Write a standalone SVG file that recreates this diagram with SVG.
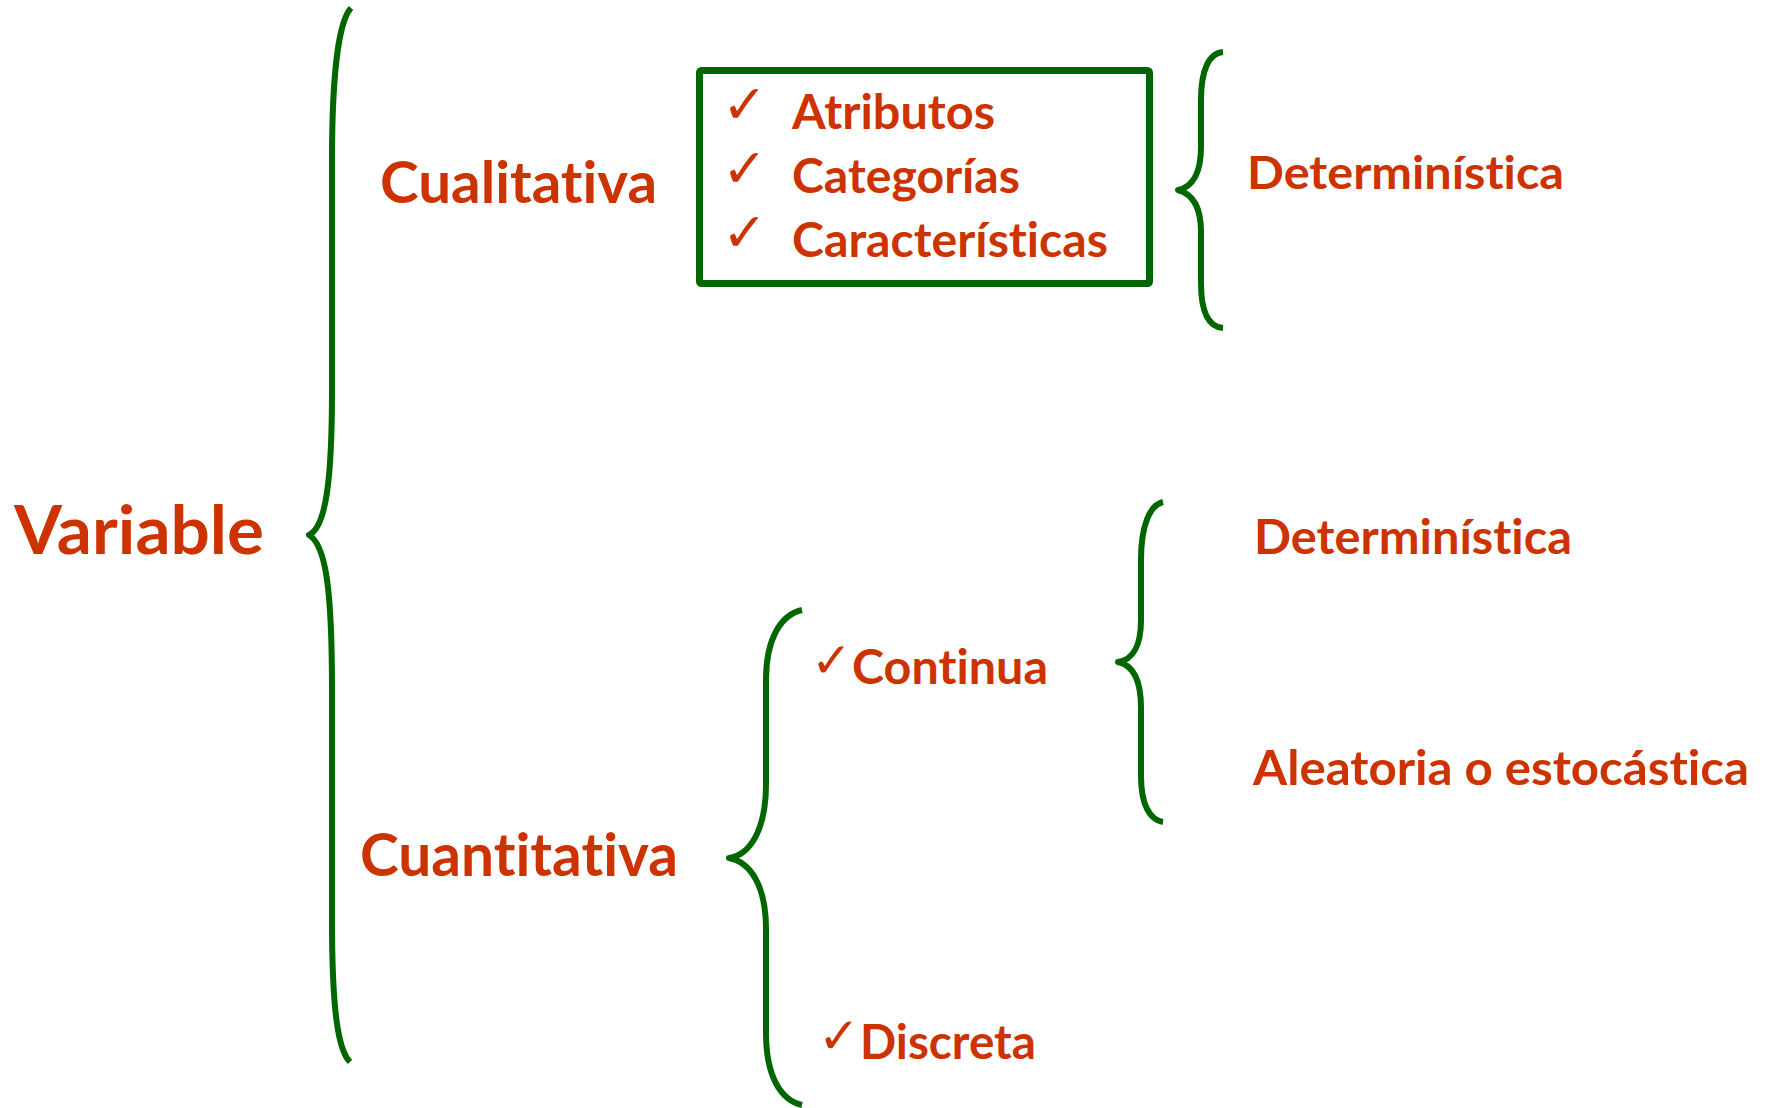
<svg xmlns="http://www.w3.org/2000/svg" width="1771" height="1108" viewBox="0 0 1771 1108">
<style>
.t{font-family:Lato,"Open Sans","Liberation Sans",sans-serif;font-weight:700;fill:#CC3300;font-variant-ligatures:none;font-feature-settings:"liga" 0,"clig" 0}
.ck{font-family:"DejaVu Sans",sans-serif;font-weight:400;fill:#CC3300}
.br{fill:none;stroke:#006600;stroke-width:6;stroke-linecap:butt;stroke-linejoin:round}
</style>
<rect width="1771" height="1108" fill="#ffffff"/>
<g id="connectors">
<path id="brace-variable" class="br" d="M351,8 C338,22 332,80 332,160 L332,390 C332,480 326,527 309,535 C326,545 332,590 332,690 L332,920 C332,1010 338,1050 350,1062"/>
<path id="brace-cualitativa" class="br" d="M1223,52 C1209,53 1201,70 1201,100 L1201,147 C1201,172 1193,187 1178,190 C1193,194 1201,208 1201,232 L1201,283 C1201,312 1209,327 1223,328"/>
<path id="brace-cuantitativa" class="br" d="M802,610 C780,615 766,640 766,680 L766,784 C766,830 750,855 729,858 C750,862 766,885 766,929 L766,1033 C766,1075 780,1100 802,1105"/>
<path id="brace-continua" class="br" d="M1163,502 C1150,505 1141,525 1141,560 L1141,620 C1141,645 1133,660 1118,662 C1133,665 1141,680 1141,708 L1141,776 C1141,805 1150,820 1163,822"/>
</g>
<g id="node-variable"><text class="t" x="14" y="554" font-size="67" textLength="250" lengthAdjust="spacingAndGlyphs">Variable</text></g>
<g id="node-cualitativa"><text class="t" x="380" y="203" font-size="57" textLength="277" lengthAdjust="spacingAndGlyphs">Cualitativa</text></g>
<g id="node-cuantitativa"><text class="t" x="360" y="876" font-size="60" textLength="318" lengthAdjust="spacingAndGlyphs">Cuantitativa</text></g>
<g id="node-box">
<rect x="699.5" y="70.5" width="450" height="213" rx="2" fill="none" stroke="#006600" stroke-width="7"/>
<text class="t" y="129" font-size="47"><tspan class="ck" x="722" y="123" font-size="54">✓</tspan><tspan x="792" y="129" textLength="203" lengthAdjust="spacingAndGlyphs">Atributos</tspan></text>
<text class="t" y="193" font-size="47"><tspan class="ck" x="722" y="187" font-size="54">✓</tspan><tspan x="792" y="193" textLength="228" lengthAdjust="spacingAndGlyphs">Categorías</tspan></text>
<text class="t" y="257" font-size="47"><tspan class="ck" x="722" y="251" font-size="54">✓</tspan><tspan x="792" y="257" textLength="316" lengthAdjust="spacingAndGlyphs">Características</tspan></text>
</g>
<g id="node-deterministica-1"><text class="t" x="1247" y="189" font-size="45" textLength="317" lengthAdjust="spacingAndGlyphs">Determinística</text></g>
<g id="node-continua">
<text class="t" y="684" font-size="47"><tspan class="ck" x="811" y="677" font-size="49">✓</tspan><tspan x="852" y="684" textLength="196" lengthAdjust="spacingAndGlyphs">Continua</tspan></text>
</g>
<g id="node-discreta">
<text class="t" y="1059" font-size="47"><tspan class="ck" x="818" y="1053" font-size="50">✓</tspan><tspan x="860" y="1059" textLength="176" lengthAdjust="spacingAndGlyphs">Discreta</tspan></text>
</g>
<g id="node-deterministica-2"><text class="t" x="1254" y="554" font-size="47" textLength="318" lengthAdjust="spacingAndGlyphs">Determinística</text></g>
<g id="node-aleatoria"><text class="t" x="1253" y="785" font-size="47" textLength="496" lengthAdjust="spacingAndGlyphs">Aleatoria o estocástica</text></g>
</svg>
